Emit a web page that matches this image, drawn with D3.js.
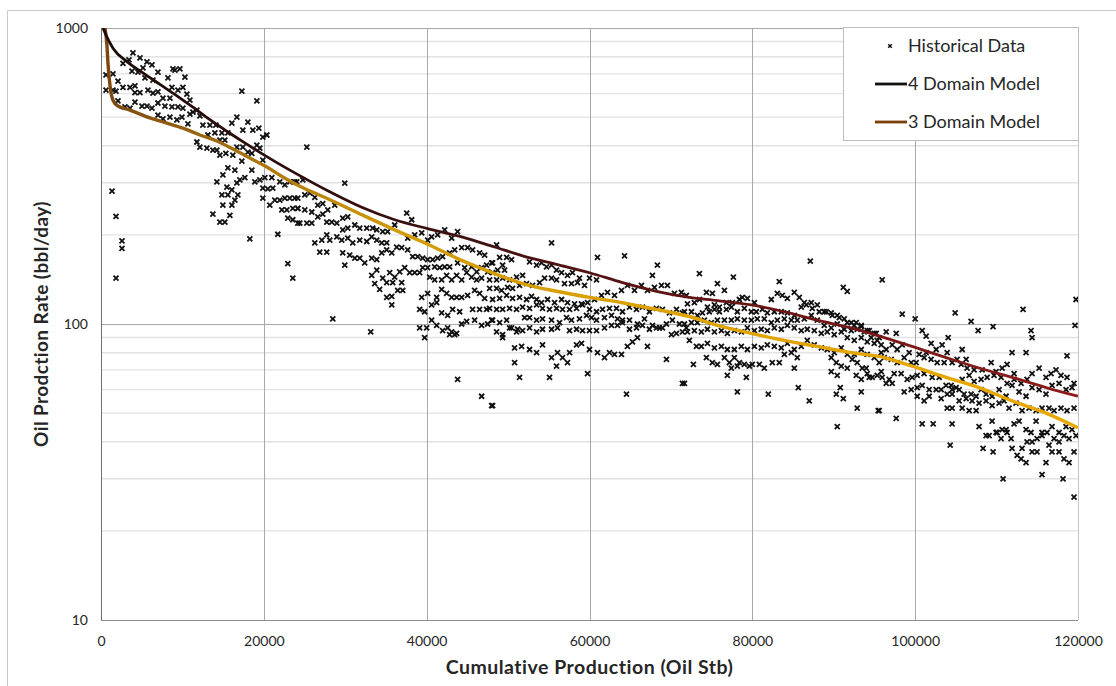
<!DOCTYPE html>
<html>
<head>
<meta charset="utf-8">
<script src="https://cdn.jsdelivr.net/npm/d3@7"></script>
<style>
  html, body { margin: 0; background: #fff; overflow: hidden; }
  svg { display: block; font-family: Lato, "Open Sans", sans-serif; }
</style>
</head>
<body>
<svg></svg>
<script>
// tick values
const xTicks = [0, 20000, 40000, 60000, 80000, 100000, 120000];
const yMajor = [10, 100, 1000];
const yMinor = [20, 30, 40, 50, 60, 70, 80, 90, 200, 300, 400, 500, 600, 700, 800, 900];
const seriesNames = ['Historical Data', '4 Domain Model', '3 Domain Model'];

// 4 domain model curve
const model4Cum = [245, 614, 1472, 3190, 5153, 7239, 9325, 11288, 13374, 15460,
  17423, 19509, 21595, 23804, 27853, 32025, 36074, 40123, 44295, 48344,
  51779, 55951, 60000, 64049, 68221, 72270, 75706, 79878, 83927, 87976,
  92148, 96197, 99632, 103804, 107853, 111902, 116074, 120000];
const model4Rate = [1000, 947, 855, 770, 705, 645, 590, 540, 490, 448,
  413, 380, 351, 324, 282, 248, 225, 210, 197, 182,
  170, 159, 149, 138, 129, 123, 120, 116, 110, 103,
  97, 90, 84, 77, 71, 66, 61, 57];

// 3 domain model curve
const model3Cum = [491, 736, 859, 1104, 1472, 2086, 3558, 6012, 8098, 10061,
  12147, 14233, 16196, 18282, 20368, 22331, 24417, 27853, 32025, 36074,
  40123, 44295, 48344, 51779, 55951, 60000, 64049, 68221, 72270, 75706,
  79878, 83927, 87976, 92148, 96197, 99632, 103804, 107853, 111902, 116074, 120000];
const model3Rate = [1000, 870, 760, 640, 570, 545, 528, 497, 477, 459,
  435, 415, 390, 364, 339, 314, 292, 265, 234, 208,
  186, 164, 148, 137, 129, 123, 118, 112, 106, 99,
  93, 88, 84, 80, 77, 72, 66, 61, 55, 50, 44.6];

// historical data [cumulative oil, rate]
const historical = [
  [614,694],[1472,700],[614,617],[1472,617],[2086,662],[1840,612],[2700,630],[3558,630],[4172,637],[3926,824],
  [4785,792],[2700,760],[3803,715],[4540,710],[5153,733],[5644,768],[6258,750],[6994,710],[6380,667],[5399,678],
  [2086,567],[2945,541],[3558,536],[4172,562],[5031,545],[5644,545],[6258,536],[4785,605],[5767,617],[6380,603],
  [6994,608],[4172,605],[8221,678],[8834,727],[9693,727],[10307,683],[8712,630],[9448,617],[10061,630],[7607,580],
  [8466,580],[6994,558],[7853,545],[8712,541],[9448,541],[10061,536],[6994,508],[7607,493],[8466,500],[9325,489],
  [9939,500],[10552,598],[10920,571],[10920,512],[11288,520],[11779,528],[10675,474],[12147,505],[11779,412],[12147,396],
  [13006,393],[13742,387],[12515,470],[13374,470],[14110,470],[13129,435],[13988,442],[14847,442],[15583,442],[14601,418],
  [15215,418],[14233,387],[14601,372],[15337,377],[16196,372],[16687,396],[17423,396],[16074,477],[16687,500],[17423,452],
  [18037,481],[18650,452],[19387,459],[19877,428],[20368,435],[17301,355],[18037,381],[18528,331],[19141,402],[19509,393],
  [19877,358],[18528,377],[15583,337],[16442,331],[14969,319],[14233,302],[15460,290],[16074,284],[16687,300],[17055,307],
  [17669,312],[14847,273],[15583,273],[14969,252],[16074,252],[16442,262],[16810,273],[13742,235],[14601,221],[15215,221],
  [15828,233],[18896,302],[19509,307],[20123,312],[20982,312],[19877,288],[20491,286],[21104,288],[21963,302],[22577,295],
  [23190,302],[23804,302],[19877,266],[20736,252],[21350,262],[21963,262],[22577,266],[23190,266],[23804,266],[22209,243],
  [22822,243],[23558,246],[24172,246],[22945,228],[23558,225],[24172,219],[3436,780],[9080,721],
  [1350,281],[1840,231],[2577,191],[2577,180],[1840,143],[17301,612],[19141,567],[18282,194],[21718,201],[22945,160],[23558,143],
  [25280,396],[24050,302],[24790,307],[24170,266],[25030,273],[25640,277],[26260,268],[24170,246],[25030,243],[25890,239],
  [26630,252],[27240,255],[27850,243],[28710,252],[24420,219],[25280,219],[25890,219],[26630,230],[27240,235],[27730,221],
  [28340,221],[28960,219],[29690,228],[30310,230],[26260,188],[27120,192],[27730,200],[28100,192],[28960,197],[26870,175],
  [27730,175],[29690,208],[30310,211],[31170,216],[31780,211],[32640,211],[33370,211],[33870,208],[34600,205],[35210,205],
  [29570,192],[30310,195],[30920,188],[31780,192],[32640,190],[33250,197],[33870,192],[34480,188],[35090,188],[29690,174],
  [30550,171],[31170,167],[31780,167],[32390,161],[33250,167],[33870,165],[34480,174],[35090,178],[35710,174],[36320,182],
  [36930,181],[29940,158],[33250,146],[33870,152],[34600,143],[35460,149],[36070,144],[36690,150],[37300,155],[33620,137],
  [34230,131],[35090,138],[35830,138],[36440,130],[37060,130],[36930,138],[37910,149],[38530,149],[39140,149],[35090,123],
  [35710,124],[35710,116],[36070,216],[37550,237],[38160,225],[37670,195],[38530,200],[39390,203],[40120,192],[40610,197],
  [41350,200],[42210,208],[43070,195],[43800,205],[37670,178],[38280,169],[38900,169],[39510,167],[40120,165],[40740,165],
  [41350,167],[41960,169],[42820,174],[43440,178],[44300,181],[45030,181],[45640,178],[46500,174],[47120,171],[39510,155],
  [40120,155],[40980,156],[41600,155],[42210,156],[42820,156],[43800,161],[44660,155],[45520,156],[46140,150],[46750,155],
  [47360,158],[47980,161],[40370,144],[40980,141],[41840,141],[42450,146],[43070,141],[43680,146],[44300,141],[44910,149],
  [45520,144],[46140,141],[46750,143],[47490,150],[48100,149],[39390,123],[40120,127],[41230,123],[41840,131],[42450,127],
  [43070,123],[43680,123],[44300,123],[45030,125],[45890,130],[46500,127],[47120,122],[39140,112],[39750,110],[40610,116],
  [41230,118],[41840,109],[42580,107],[43190,112],[44050,110],[44910,102],[45640,112],[46500,112],[47360,112],[47980,103],
  [39140,97],[40000,97],[40610,103],[41230,99],[41960,95],[42580,97],[43070,94],[43680,93],[44300,100],[45890,103],
  [46750,99],[47490,100],[39750,90],[42820,92],[43440,92],[28470,104],[33130,94],[43800,65],[46750,57],[48100,53],[29940,299],
  [48590,185],[55340,188],[48960,168],[49820,168],[50430,165],[49330,158],[48100,161],[48710,152],[49570,152],
  [47730,141],[48590,141],[49330,143],[50180,141],[51040,144],[51780,146],[52640,162],[53500,158],[54110,161],[54720,156],
  [55340,158],[55950,152],[56570,149],[57300,146],[57910,149],[58770,143],
  [47730,132],[48590,132],[49200,130],[49940,133],[50550,132],[51410,135],[52270,137],[53010,135],[53870,138],[54480,143],
  [55340,143],[55950,141],[56930,137],[57790,137],[58530,138],[59390,135],[60000,143],[60860,141],
  [48100,121],[48960,122],[49820,125],[50550,122],[51410,123],[52270,121],[52880,124],[53500,121],[54110,118],[54850,121],
  [55710,118],[56570,121],[57300,118],[58160,117],[59020,117],[59760,118],[60610,121],[61470,125],[62210,128],[63070,125],
  [63930,130],[64660,135],[65520,130],[66380,135],[67120,130],[67980,133],[68840,135],[69570,135],[70430,127],[71290,128],[71900,125],
  [47730,113],[48590,112],[49330,112],[50180,113],[51040,112],[51780,114],[52640,113],[53500,116],[54230,113],[55090,112],
  [55950,113],[56690,112],[57550,112],[58410,113],[59140,116],[60000,112],[60860,110],[61600,112],[62450,113],[63310,113],
  [64050,110],[64910,114],[65770,112],[66500,114],[67360,110],[68220,113],[68960,112],[69820,109],[70680,112],[71410,109],
  [48100,103],[48960,101],[49820,103],[50430,97],[51170,96],[52030,105],[52640,105],[53500,103],[54230,104],[55340,103],
  [56320,101],[57180,105],[57790,103],[58770,104],[59630,107],[60250,105],[60860,103],[61840,105],[62700,107],[63440,104],
  [64050,103],[64910,103],[65890,100],[66750,104],[67730,99],[68590,97],[69450,100],[70180,103],[71040,100],[71900,97],
  [48590,94],[49330,92],[50180,97],[51040,94],[51780,95],[52640,97],[53500,94],[54230,96],[55340,96],[56070,97],
  [57550,95],[58410,96],[59140,95],[60000,95],[60860,95],[61840,97],[62700,99],[63440,99],[64050,101],[64910,96],
  [65770,97],[66500,99],[67360,96],[68220,97],[68960,97],[70060,92],[70680,93],[71410,94],
  [49330,90],[50800,83],[51660,84],[52640,82],[53500,80],[54230,85],[55340,77],[56070,80],[56690,77],[57550,80],
  [58410,85],[59020,86],[60000,82],[60980,80],[61840,77],[62450,80],[63070,79],[63930,79],[64660,84],[65280,87],[65890,90],
  [50800,74],[55950,72],[57300,74],[51410,66],[55090,66],[59760,68],[64540,58],[47980,53],
  [60980,168],[64300,170],[68340,158],[67730,146],[67120,84],[69450,76],[71410,63],
  [73500,148],[77670,144],[87120,163],[91170,133],[91660,129],[95950,141],[75710,137],[76570,130],[83310,139],
  [72030,117],[72880,118],[73500,121],[74360,128],[75090,127],[74480,114],[75340,116],[75950,114],[76810,118],[77550,118],
  [78410,121],[78770,123],[79390,122],[80250,118],[82330,121],[83070,127],[83680,125],[84300,122],[85150,128],[85770,123],
  [86380,118],[87240,118],[87980,116],[88830,110],[89690,109],[90430,107],[91290,104],[92150,101],[92760,101],[93380,99],
  [94110,95],[95220,93],
  [71660,110],[72520,110],[73250,107],[73870,109],[74720,110],[75340,112],[75950,110],[76810,112],[77420,114],[78160,110],
  [79020,113],[79880,110],[80490,110],[81230,112],[81840,109],[82700,110],[83560,110],[84300,109],[85150,107],[86010,114],
  [86630,116],[87360,113],[88220,110],[89080,110],[89820,107],[90680,105],[91660,101],[92520,99],[93380,98],[94360,95],[94970,93],
  [71660,100],[72520,101],[73250,101],[74110,103],[74970,101],[75710,103],[76570,103],[77420,103],[78160,104],[79020,103],
  [79880,103],[80610,104],[81470,104],[82330,101],[83070,103],[83930,104],[84790,103],[85520,103],[86380,104],[87240,107],
  [87980,103],[88830,99],[89690,97],[90430,100],[91290,96],[92150,95],[92880,96],[93740,94],[94600,90],[95340,88],
  [72030,94],[72880,95],[73740,94],[74480,96],[75340,94],[76200,95],[76930,93],[77790,95],[78650,94],[79390,97],
  [80250,95],[81100,96],[81840,95],[82700,97],[83560,96],[84300,99],[85150,97],[86010,95],[86750,96],[87610,95],
  [88470,93],[89200,94],[90060,92],[90920,94],[91660,90],[92520,88],[93380,90],[94110,87],[94970,86],[95830,85],
  [72270,88],[73130,84],[73740,84],[74480,86],[75340,83],[76200,84],[76930,82],[77790,82],[78650,84],[79390,82],
  [80250,84],[81100,83],[81840,85],[82700,84],[83560,83],[84300,86],[85150,82],[86010,84],[86750,88],[87610,85],
  [88470,83],[89200,82],[90060,80],[90920,83],[91660,79],[92520,79],[93380,82],[94110,79],[94970,77],[95830,80],
  [74360,77],[75090,74],[75710,73],[76570,77],[77180,74],[77790,77],[78410,74],[79020,73],[79630,72],[80000,73],
  [80860,73],[81470,71],[82450,74],[83310,74],[83930,79],[84790,80],[85520,77],[85150,71],
  [76930,67],[77420,71],[79260,66],[78160,72],
  [89690,77],[90310,74],[90920,72],[91660,71],[92270,76],[92880,74],[93500,71],[94110,68],[94720,66],[95340,67],[95830,69],[93990,71],
  [89690,69],[90430,67],[92760,67],[93380,65],[94360,66],
  [72760,73],[71660,63],[78160,59],[81960,58],[85650,61],[86990,55],[90310,58],[90800,61],[91170,56],[92880,52],
  [93380,59],[95460,51],[90430,45],
  [98410,108],[100000,104],[104910,109],[106870,102],[109570,98],[113250,112],[119760,121],[119630,99],[100860,95],[101350,91],
  [104050,90],[107730,95],[114230,95],[114360,90],[105770,82],[111900,80],[113620,80],[118650,78],
  [97670,48],[100860,46],[102210,46],[104540,46],[104300,39],[108340,38],[109570,37],[110800,30],[115580,31],[118160,30],
  [119510,26],[95580,51],
  [95580,90],[96440,94],[97670,93],
  [96440,82],[97180,85],[97790,82],[98410,85],[99260,80],[100490,79],[101350,80],[101960,86],[102580,82],[103310,85],
  [103930,80],[105150,76],[106260,76],
  [95580,74],[96200,77],[97060,76],[97790,74],[98650,77],[99510,74],[100120,74],[101100,77],[101960,76],[102700,74],
  [103560,74],[104540,74],[105650,73],[106380,71],[107240,70],[108220,70],[109330,74],[109940,69],[110680,71],[111290,73],[112150,68],
  [95950,66],[96810,65],[97420,68],[98280,68],[99020,65],[99630,66],[100250,67],[101100,68],[102090,66],[102950,66],
  [103800,62],[104420,62],[105030,61],[105770,65],[106630,67],[107240,64],[108100,65],[108840,66],[109690,67],[110550,66],
  [111290,63],[112150,65],[113010,63],[113740,65],[114360,68],[115220,71],[116070,66],[116690,68],[117300,70],[117910,67],
  [118650,66],[119510,63],
  [96440,63],[97180,63],[98650,59],[99510,60],[100250,61],[100860,62],[101720,60],[102580,60],[103190,60],[104540,60],
  [105400,60],[106010,58],[106870,58],[107490,57],[108100,60],[108710,58],[109450,57],[110310,60],[111170,57],[111900,62],
  [112760,59],[113620,57],[114360,61],[115220,60],[116070,58],[116810,62],[117670,63],[118530,60],[119260,61],
  [100250,57],[101100,55],[101720,57],[103190,56],[103930,58],[104540,58],[105400,55],[106260,56],[106990,55],[107850,54],
  [108710,55],[109450,53],[110310,54],[110920,55],[111530,52],[112390,54],[113130,51],[113990,52],[114850,51],[115580,52],
  [116440,52],[117060,51],[117910,52],[118650,51],[119510,52],
  [103930,52],[104540,52],[105770,52],[106630,51],[107490,51],[107850,45],[108710,42],[109450,47],[110060,43],[110680,44],
  [111290,43],[112150,46],[112760,47],[113620,44],[114230,43],[114850,47],[115580,43],[116200,43],[116810,45],[117670,43],
  [118530,45],[119260,44],
  [111900,38],[112520,36],[113130,38],[113740,40],[114360,40],[114970,41],[115580,42],[116440,39],[117060,41],[117670,40],
  [118280,42],[118900,41],[119760,42],[116070,34],[116810,37],[117670,37],[118280,35],[118900,34],[119510,37],[114360,37],
  [114970,37],[113620,34],[113010,35],[111780,41],[111170,44],[109940,43],[109080,42],[110550,41]
];

const width = 1116;
const height = 686;
const margin = { top: 28, right: 38, bottom: 66, left: 101 };
const innerWidth = width - margin.left - margin.right;
const innerHeight = height - margin.top - margin.bottom;

const svg = d3.select('svg')
  .attr('width', width)
  .attr('height', height);

// chart frame (top and left edges are the only ones in view)
svg.append('path')
  .attr('d', `M7.5,${height}V10.5H${width}`)
  .attr('fill', 'none')
  .attr('stroke', '#c8c8c8');

const xScale = d3.scaleLinear()
  .domain([0, 120000])
  .range([0, innerWidth]);

const yScale = d3.scaleLog()
  .domain([10, 1000])
  .range([innerHeight, 0]);

const defs = svg.append('defs');
defs.append('clipPath').attr('id', 'plotClip')
  .append('rect').attr('width', innerWidth).attr('height', innerHeight);

const grad4 = defs.append('linearGradient').attr('id', 'grad4')
  .attr('gradientUnits', 'userSpaceOnUse')
  .attr('x1', 0).attr('x2', innerWidth).attr('y1', 0).attr('y2', 0);
grad4.selectAll('stop')
  .data([[0, '#1c0b08'], [0.35, '#3c1010'], [0.7, '#6e1515'], [1, '#901c1c']])
  .enter().append('stop')
    .attr('offset', d => d[0])
    .attr('stop-color', d => d[1]);

const grad3 = defs.append('linearGradient').attr('id', 'grad3')
  .attr('gradientUnits', 'userSpaceOnUse')
  .attr('x1', 0).attr('x2', innerWidth).attr('y1', 0).attr('y2', 0);
grad3.selectAll('stop')
  .data([[0, '#7a4510'], [0.12, '#a06a10'], [0.3, '#d29a05'], [0.6, '#dea300'], [1, '#eaa800']])
  .enter().append('stop')
    .attr('offset', d => d[0])
    .attr('stop-color', d => d[1]);

const g = svg.append('g')
  .attr('transform', `translate(${margin.left},${margin.top})`);

// minor horizontal grid
g.append('g').selectAll('line').data(yMinor)
  .enter().append('line')
    .attr('x1', 0).attr('x2', innerWidth)
    .attr('y1', d => yScale(d)).attr('y2', d => yScale(d))
    .attr('stroke', '#e2e2e2')
    .attr('stroke-width', 1.4);

// major horizontal grid
g.append('g').selectAll('line').data(yMajor)
  .enter().append('line')
    .attr('x1', 0).attr('x2', innerWidth)
    .attr('y1', d => Math.round(yScale(d)) + 0.5).attr('y2', d => Math.round(yScale(d)) + 0.5)
    .attr('stroke', d => d === 10 ? '#8c8c8c' : '#a8a8a8');

// vertical grid
g.append('g').selectAll('line').data(xTicks.slice(1))
  .enter().append('line')
    .attr('x1', d => Math.round(xScale(d)) + 0.5).attr('x2', d => Math.round(xScale(d)) + 0.5)
    .attr('y1', 0).attr('y2', innerHeight)
    .attr('stroke', d => d === 120000 ? '#c4c4c4' : '#a8a8a8');

// left axis line
g.append('line')
  .attr('x1', 0.5).attr('x2', 0.5)
  .attr('y1', 0).attr('y2', innerHeight)
  .attr('stroke', '#707070');

// x tick labels
const xAxis = d3.axisBottom(xScale)
  .tickValues(xTicks)
  .tickSize(0)
  .tickPadding(16)
  .tickFormat(d3.format('d'));
const xAxisG = g.append('g')
  .attr('transform', `translate(0,${innerHeight})`)
  .call(xAxis);
xAxisG.select('.domain').remove();
xAxisG.selectAll('text')
  .attr('font-size', 14)
  .attr('font-family', 'Lato, sans-serif')
  .attr('fill', '#262626');

// y tick labels
const yAxis = d3.axisLeft(yScale)
  .tickValues(yMajor)
  .tickSize(0)
  .tickPadding(13)
  .tickFormat(d3.format('d'));
const yAxisG = g.append('g').call(yAxis);
yAxisG.select('.domain').remove();
yAxisG.selectAll('text')
  .attr('font-size', 14)
  .attr('font-family', 'Lato, sans-serif')
  .attr('fill', '#262626');

// axis titles
svg.append('text')
  .attr('x', margin.left + innerWidth / 2)
  .attr('y', 674)
  .attr('text-anchor', 'middle')
  .attr('font-size', 19.5)
  .attr('letter-spacing', 0.5)
  .attr('font-weight', 'bold')
  .attr('fill', '#262626')
  .text('Cumulative Production (Oil Stb)');

svg.append('text')
  .attr('transform', `translate(48,${margin.top + innerHeight / 2}) rotate(-90)`)
  .attr('text-anchor', 'middle')
  .attr('font-size', 19)
  .attr('letter-spacing', 0.4)
  .attr('font-weight', 'bold')
  .attr('fill', '#262626')
  .text('Oil Prodction Rate (bbl/day)');

const plot = g.append('g').attr('clip-path', 'url(#plotClip)');

// historical points as small crosses
const cross = 'M-2.5,-2.5L2.5,2.5M-2.5,2.5L2.5,-2.5';
plot.append('g').selectAll('path').data(historical)
  .enter().append('path')
    .attr('d', cross)
    .attr('transform', d => `translate(${xScale(d[0])},${yScale(d[1])})`)
    .attr('stroke', '#111')
    .attr('stroke-width', 1.8)
    .attr('fill', 'none');

const line = d3.line()
  .x(d => xScale(d[0]))
  .y(d => yScale(d[1]))
  .curve(d3.curveMonotoneX);

plot.append('path')
  .datum(model3Cum.map((c, i) => [c, model3Rate[i]]))
  .attr('d', line)
  .attr('fill', 'none')
  .attr('stroke', 'url(#grad3)')
  .attr('stroke-width', 3.4);

plot.append('path')
  .datum(model4Cum.map((c, i) => [c, model4Rate[i]]))
  .attr('d', line)
  .attr('fill', 'none')
  .attr('stroke', 'url(#grad4)')
  .attr('stroke-width', 2.8);

// legend
const legend = svg.append('g').attr('transform', 'translate(843,27)');
legend.append('rect')
  .attr('x', 0.5).attr('y', 0.5)
  .attr('width', 235).attr('height', 113)
  .attr('fill', '#fff')
  .attr('stroke', '#bdbdbd');

const legendRows = [
  { name: seriesNames[0], y: 19, kind: 'cross' },
  { name: seriesNames[1], y: 57, kind: 'line', color: '#111' },
  { name: seriesNames[2], y: 95, kind: 'line', color: '#7b3e08' }
];
const rows = legend.selectAll('g.row').data(legendRows)
  .enter().append('g')
    .attr('class', 'row')
    .attr('transform', d => `translate(0,${d.y})`);
rows.filter(d => d.kind === 'cross').append('path')
  .attr('d', 'M-1.8,-1.8L1.8,1.8M-1.8,1.8L1.8,-1.8')
  .attr('transform', 'translate(47,0)')
  .attr('stroke', '#111')
  .attr('stroke-width', 1.5);
rows.filter(d => d.kind === 'line').append('line')
  .attr('x1', 32).attr('x2', 64)
  .attr('stroke', d => d.color)
  .attr('stroke-width', 2.8);
rows.append('text')
  .attr('x', 65)
  .attr('dy', '0.35em')
  .attr('font-size', 18)
  .attr('fill', '#262626')
  .text(d => d.name);
</script>
</body>
</html>
